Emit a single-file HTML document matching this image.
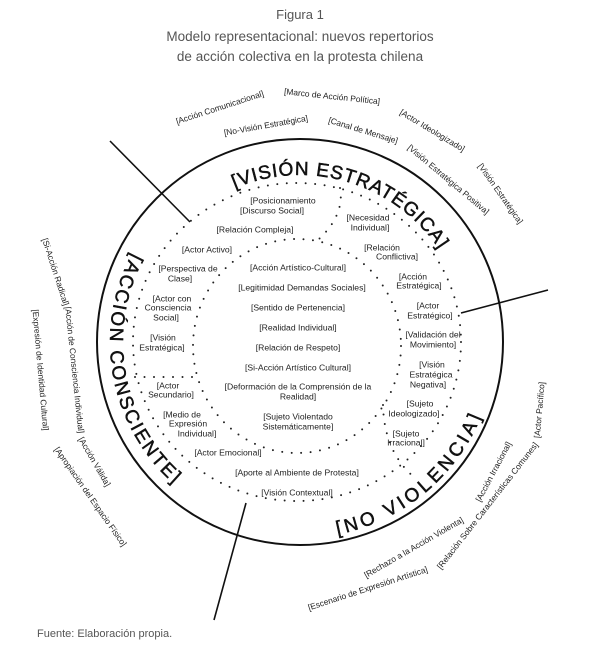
<!DOCTYPE html>
<html><head><meta charset="utf-8">
<style>
html,body{margin:0;padding:0;background:#fff;}
svg{display:block;font-family:"Liberation Sans",sans-serif;}
.t{font-size:8.6px;fill:#222;text-anchor:middle;dominant-baseline:middle;}
.o{font-size:8.4px;fill:#222;text-anchor:middle;dominant-baseline:middle;}
.big{font-size:19px;fill:#111;letter-spacing:3px;stroke:#111;stroke-width:0.5px;}
.dot{fill:none;stroke:#222;stroke-width:2;stroke-linecap:round;stroke-dasharray:0 9.5;}
</style></head><body>
<svg width="600" height="668" viewBox="0 0 600 668" xmlns="http://www.w3.org/2000/svg">
<text x="300" y="19" text-anchor="middle" font-size="13" fill="#555">Figura 1</text>
<text x="300" y="41" text-anchor="middle" font-size="13.5" fill="#555">Modelo representacional: nuevos repertorios</text>
<text x="300" y="61" text-anchor="middle" font-size="13.5" fill="#555">de acción colectiva en la protesta chilena</text>
<text x="37" y="637" font-size="11" fill="#555">Fuente: Elaboración propia.</text>

<circle cx="300" cy="342" r="203" fill="none" stroke="#111" stroke-width="2"/>
<ellipse cx="297" cy="342" rx="164" ry="159" class="dot"/>
<ellipse cx="297" cy="346" rx="104" ry="107" class="dot"/>
<path d="M340 188 Q345 215 318 240" class="dot"/>
<path d="M135 377 L197 377" class="dot"/>
<path d="M383 405 Q384 452 415 478" class="dot"/>

<line x1="110" y1="141" x2="190" y2="222" stroke="#111" stroke-width="1.6"/>
<line x1="461" y1="313" x2="548" y2="290" stroke="#111" stroke-width="1.6"/>
<line x1="246" y1="503" x2="214" y2="620" stroke="#111" stroke-width="1.6"/>

<defs>
<path id="pv" d="M234.8 188.3 A167 167 0 0 1 441.6 253.5"/>
<path id="pa" d="M132.2 252.8 A190 190 0 0 0 180.4 489.6"/>
<path id="pn" d="M337.4 534.4 A196 196 0 0 0 484.2 409.0"/>
</defs>
<text class="big"><textPath href="#pv" textLength="234" lengthAdjust="spacing">[VISIÓN ESTRATÉGICA]</textPath></text>
<text class="big"><textPath href="#pa" textLength="256" lengthAdjust="spacing">[ACCIÓN CONSCIENTE]</textPath></text>
<text class="big"><textPath href="#pn" textLength="196" lengthAdjust="spacing">[NO VIOLENCIA]</textPath></text>

<text class="t" x="283" y="201">[Posicionamiento</text>
<text class="t" x="272" y="211">[Discurso Social]</text>
<text class="t" x="255" y="230">[Relación Compleja]</text>
<text class="t" x="207" y="250">[Actor Activo]</text>
<text class="t" x="188" y="269">[Perspectiva de</text>
<text class="t" x="180" y="279">Clase]</text>
<text class="t" x="172" y="299">[Actor con</text>
<text class="t" x="168" y="308">Consciencia</text>
<text class="t" x="166" y="318">Social]</text>
<text class="t" x="163" y="338">[Visión</text>
<text class="t" x="162" y="348">Estratégica]</text>
<text class="t" x="168" y="386">[Actor</text>
<text class="t" x="171" y="395">Secundario]</text>
<text class="t" x="182" y="415">[Medio de</text>
<text class="t" x="188" y="424">Expresión</text>
<text class="t" x="197" y="434">Individual]</text>
<text class="t" x="228" y="453">[Actor Emocional]</text>
<text class="t" x="297" y="473">[Aporte al Ambiente de Protesta]</text>
<text class="t" x="297" y="493">[Visión Contextual]</text>
<text class="t" x="298" y="268">[Acción Artístico-Cultural]</text>
<text class="t" x="302" y="288">[Legitimidad Demandas Sociales]</text>
<text class="t" x="298" y="308">[Sentido de Pertenencia]</text>
<text class="t" x="298" y="328">[Realidad Individual]</text>
<text class="t" x="298" y="348">[Relación de Respeto]</text>
<text class="t" x="298" y="368">[Si-Acción Artístico Cultural]</text>
<text class="t" x="298" y="387">[Deformación de la Comprensión de la</text>
<text class="t" x="298" y="397">Realidad]</text>
<text class="t" x="298" y="417">[Sujeto Violentado</text>
<text class="t" x="298" y="427">Sistemáticamente]</text>
<text class="t" x="368" y="218">[Necesidad</text>
<text class="t" x="370" y="228">Individual]</text>
<text class="t" x="382" y="248">[Relación</text>
<text class="t" x="397" y="257">Conflictiva]</text>
<text class="t" x="413" y="277">[Acción</text>
<text class="t" x="419" y="286">Estratégica]</text>
<text class="t" x="428" y="306">[Actor</text>
<text class="t" x="430" y="316">Estratégico]</text>
<text class="t" x="433" y="335">[Validación del</text>
<text class="t" x="433" y="345">Movimiento]</text>
<text class="t" x="432" y="365">[Visión</text>
<text class="t" x="431" y="375">Estratégica</text>
<text class="t" x="428" y="385">Negativa]</text>
<text class="t" x="420" y="404">[Sujeto</text>
<text class="t" x="414" y="414">Ideologizado]</text>
<text class="t" x="406" y="434">[Sujeto</text>
<text class="t" x="406" y="443">Irracional]</text>

<text class="o" transform="translate(220,108) rotate(-18)">[Acción Comunicacional]</text>
<text class="o" transform="translate(332,97) rotate(6)">[Marco de Acción Política]</text>
<text class="o" transform="translate(266,126) rotate(-10)">[No-Visión Estratégica]</text>
<text class="o" transform="translate(363,131) rotate(17)">[Canal de Mensaje]</text>
<text class="o" transform="translate(432,131) rotate(31)">[Actor Ideologizado]</text>
<text class="o" transform="translate(448,180) rotate(40)">[Visión Estratégica Positiva]</text>
<text class="o" transform="translate(500,194) rotate(55)">[Visión Estratégica]</text>
<text class="o" transform="translate(55,272) rotate(72)">[Si-Acción Radical]</text>
<text class="o" transform="translate(40,370) rotate(85)">[Expresión de Identidad Cultural]</text>
<text class="o" transform="translate(74,370) rotate(84)">[Acción de Consciencia Individual]</text>
<text class="o" transform="translate(94,462) rotate(60)">[Acción Válida]</text>
<text class="o" transform="translate(90,497) rotate(55)">[Apropiación del Espacio Físico]</text>
<text class="o" transform="translate(540,410) rotate(-85)">[Actor Pacífico]</text>
<text class="o" transform="translate(494,472) rotate(-62)">[Acción Irracional]</text>
<text class="o" transform="translate(488,506) rotate(-52)">[Relación Sobre Características Comunes]</text>
<text class="o" transform="translate(414,548) rotate(-30)">[Rechazo a la Acción Violenta]</text>
<text class="o" transform="translate(368,589) rotate(-18)">[Escenario de Expresión Artística]</text>
</svg>
</body></html>
